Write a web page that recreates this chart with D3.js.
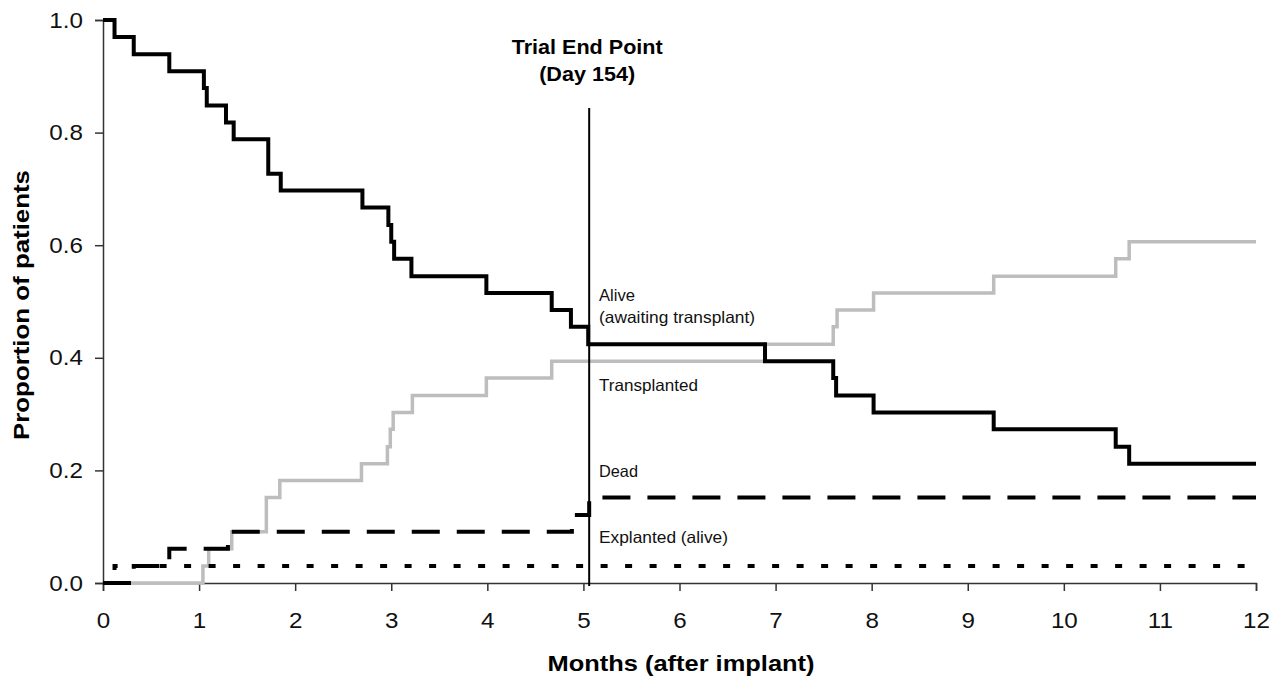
<!DOCTYPE html>
<html>
<head>
<meta charset="utf-8">
<script src="https://cdn.jsdelivr.net/npm/d3@7"></script>
<style>
  body { margin: 0; background: #fff; }
  svg { font-family: "Liberation Sans", Arial, sans-serif; }
</style>
</head>
<body>
<div id="chart"></div>
<script>
// step curves (months, proportion of patients)
var aliveTimes  = [0, 0.12, 0.32, 0.69, 1.05, 1.08, 1.28, 1.36, 1.72, 1.85, 2.70, 2.97, 3.00, 3.03, 3.21, 3.99, 4.67, 4.87, 5.05, 6.89, 7.60, 7.63, 8.02, 9.27, 10.54, 10.68];
var aliveValues = [1.0, 0.970, 0.939, 0.909, 0.879, 0.848, 0.818, 0.788, 0.727, 0.697, 0.667, 0.636, 0.606, 0.576, 0.545, 0.515, 0.485, 0.455, 0.424, 0.394, 0.364, 0.333, 0.303, 0.273, 0.242, 0.212];

var transTimes  = [0, 1.04, 1.10, 1.34, 1.70, 1.84, 2.69, 2.96, 2.99, 3.02, 3.22, 3.99, 4.67, 6.89, 7.60, 7.64, 8.02, 9.27, 10.54, 10.68];
var transValues = [0, 0.030, 0.061, 0.091, 0.152, 0.182, 0.212, 0.242, 0.273, 0.303, 0.333, 0.364, 0.394, 0.424, 0.455, 0.485, 0.515, 0.545, 0.576, 0.606];

var deadTimes  = [0, 0.32, 0.69, 1.30, 4.88, 5.06];
var deadValues = [0, 0.030, 0.061, 0.091, 0.121, 0.152];

var explTimes  = [0, 0.12];
var explValues = [0, 0.030];

var xTicks = [0, 1, 2, 3, 4, 5, 6, 7, 8, 9, 10, 11, 12];
var yTicks = [0, 0.2, 0.4, 0.6, 0.8, 1.0];
var endPoint = 5.06; // day 154

var W = 1280, H = 681;
var svg = d3.select("#chart").append("svg")
  .attr("width", W).attr("height", H);

var x = d3.scaleLinear().domain([0, 12]).range([103, 1256]);
var y = d3.scaleLinear().domain([0, 1]).range([583, 20]);

// the original text is a bit wider than Arial, so stretch it
function widen(sel, k) {
  sel.each(function() {
    var w = this.getComputedTextLength();
    d3.select(this).attr("textLength", w * k).attr("lengthAdjust", "spacingAndGlyphs");
  });
}

function toPoints(ts, vs) {
  var pts = ts.map(function(t, i) { return [t, vs[i]]; });
  pts.push([12, vs[vs.length - 1]]);
  return pts;
}

var line = d3.line()
  .x(function(d) { return x(d[0]); })
  .y(function(d) { return y(d[1]); })
  .curve(d3.curveStepAfter);

// axes
var yAxis = svg.append("g")
  .attr("transform", "translate(103,0)")
  .call(d3.axisLeft(y).tickValues(yTicks).tickFormat(d3.format(".1f")).tickSizeOuter(0).tickSize(8).tickPadding(12));
var xAxis = svg.append("g")
  .attr("transform", "translate(0,583)")
  .call(d3.axisBottom(x).tickValues(xTicks).tickFormat(d3.format("d")).tickSizeOuter(0).tickSize(8).tickPadding(21));
[xAxis, yAxis].forEach(function(a) {
  a.selectAll("path, line").attr("stroke", "#333").attr("stroke-width", 1.5);
  a.selectAll("text").attr("font-size", 22).attr("fill", "#111")
    .attr("font-family", "'Liberation Sans', Arial, sans-serif")
    .call(widen, 1.1);
});

// curves
svg.append("path")
  .attr("d", line(toPoints(transTimes, transValues)))
  .attr("fill", "none").attr("stroke", "#bdbdbd").attr("stroke-width", 3.5);

svg.append("path")
  .attr("d", line(toPoints(explTimes, explValues)))
  .attr("fill", "none").attr("stroke", "#000").attr("stroke-width", 4)
  .attr("stroke-dasharray", "7,17.5");

svg.append("path")
  .attr("d", line(toPoints(deadTimes, deadValues)))
  .attr("fill", "none").attr("stroke", "#000").attr("stroke-width", 4)
  .attr("stroke-dasharray", "28,17");

svg.append("path")
  .attr("d", line(toPoints(aliveTimes, aliveValues)))
  .attr("fill", "none").attr("stroke", "#000").attr("stroke-width", 4);

// trial end point line
svg.append("line")
  .attr("x1", x(endPoint)).attr("x2", x(endPoint))
  .attr("y1", 108).attr("y2", 586)
  .attr("stroke", "#000").attr("stroke-width", 2);

svg.append("text")
  .attr("x", x(endPoint) - 2).attr("y", 54)
  .attr("text-anchor", "middle").attr("font-size", 21).attr("font-weight", "bold")
  .attr("textLength", 151).attr("lengthAdjust", "spacingAndGlyphs")
  .text("Trial End Point");
svg.append("text")
  .attr("x", x(endPoint) - 2).attr("y", 81)
  .attr("text-anchor", "middle").attr("font-size", 21).attr("font-weight", "bold")
  .attr("textLength", 96).attr("lengthAdjust", "spacingAndGlyphs")
  .text("(Day 154)");

// curve labels
var labels = [
  {t: "Alive", y: 301, w: 36},
  {t: "(awaiting transplant)", y: 323, w: 156},
  {t: "Transplanted", y: 391, w: 99},
  {t: "Dead", y: 477, w: 39},
  {t: "Explanted (alive)", y: 543, w: 129}
];
svg.selectAll(".lbl").data(labels).enter().append("text")
  .attr("class", "lbl")
  .attr("x", 599).attr("y", function(d) { return d.y; })
  .attr("font-size", 16.5).attr("fill", "#111")
  .attr("textLength", function(d) { return d.w; }).attr("lengthAdjust", "spacingAndGlyphs")
  .text(function(d) { return d.t; });

// axis titles
svg.append("text")
  .attr("x", 681).attr("y", 671)
  .attr("text-anchor", "middle").attr("font-size", 22).attr("font-weight", "bold")
  .attr("textLength", 267).attr("lengthAdjust", "spacingAndGlyphs")
  .text("Months (after implant)");
svg.append("text")
  .attr("transform", "translate(29,305) rotate(-90)")
  .attr("text-anchor", "middle").attr("font-size", 22).attr("font-weight", "bold")
  .attr("textLength", 270).attr("lengthAdjust", "spacingAndGlyphs")
  .text("Proportion of patients");
</script>
</body>
</html>
